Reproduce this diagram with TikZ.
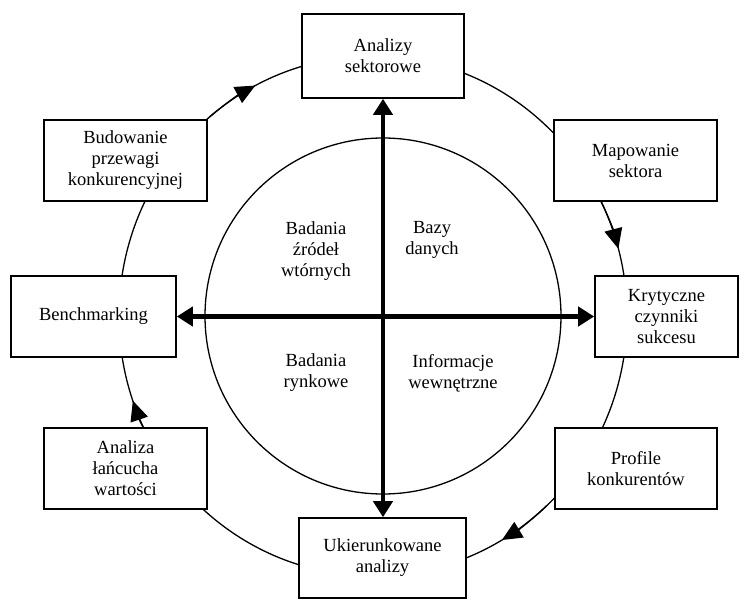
\documentclass[tikz,border=0pt]{standalone}
\usepackage{fontspec}
\setmainfont{Liberation Serif}
\usetikzlibrary{arrows.meta}
\begin{document}
\begin{tikzpicture}[x=1pt,y=-1pt,
  box/.style={draw, line width=1.6pt, fill=white, align=center, inner sep=0pt,
    font=\fontsize{18.5}{21}\selectfont},
  lbl/.style={align=center, inner sep=0pt, font=\fontsize{18.5}{21}\selectfont},
  ring/.style={line width=1.3pt},
  cyc/.style={line width=1.3pt, -{Triangle[length=20pt,width=18pt]}},
  axis/.style={line width=4.5pt, {Triangle[length=16pt,width=19pt]}-{Triangle[length=16pt,width=19pt]}}]
\useasboundingbox (0,0) rectangle (751,601);
\coordinate (oc) at (373,316);
\coordinate (ic) at (383,316);
\draw[ring] (oc) ellipse [x radius=254, y radius=260];
\draw[ring] (ic) circle [radius=178];
% cycle arrows (clockwise on screen)
\draw[cyc] (oc) ++(-130:254 and 260) arc[start angle=-130, end angle=-117.6, x radius=254, y radius=260];
\draw[cyc] (oc) ++(-28:254 and 260) arc[start angle=-28, end angle=-15, x radius=254, y radius=260];
\draw[cyc] (oc) ++(47:254 and 260) arc[start angle=47, end angle=59.5, x radius=254, y radius=260];
\draw[cyc] (oc) ++(148:254 and 260) arc[start angle=148, end angle=161, x radius=254, y radius=260];
% boxes
\node[box, minimum width=162, minimum height=84] (an) at (383,56) {Analizy\\sektorowe};
\node[box, minimum width=163, minimum height=81] (map) at (635.5,160.5) {Mapowanie\\sektora};
\node[box, minimum width=143, minimum height=81] (kr) at (666.5,316.5) {Krytyczne\\czynniki\\sukcesu};
\node[box, minimum width=162, minimum height=81] (pr) at (636,468.5) {Profile\\konkurentów};
\node[box, minimum width=167, minimum height=80] (uk) at (382.5,558) {Ukierunkowane\\analizy};
\node[box, minimum width=163, minimum height=81] (al) at (125.5,468.5) {Analiza\\łańcucha\\wartości};
\node[box, minimum width=165, minimum height=81] (be) at (93.5,316.5) {Benchmarking};
\node[box, minimum width=163, minimum height=81] (bu) at (125.5,160.5) {Budowanie\\przewagi\\konkurencyjnej};
% axes
\draw[axis] (be.east) -- (kr.west);
\draw[axis] (an.south) -- (an.south |- uk.north);
% inner labels
\node[lbl] (q1) at (316,251) {Badania\\źródeł\\wtórnych};
\node[lbl] (q2) at (432,240) {Bazy\\danych};
\node[lbl] (q3) at (316,373) {Badania\\rynkowe};
\node[lbl] (q4) at (453,373) {Informacje\\wewnętrzne};
\end{tikzpicture}
\end{document}
